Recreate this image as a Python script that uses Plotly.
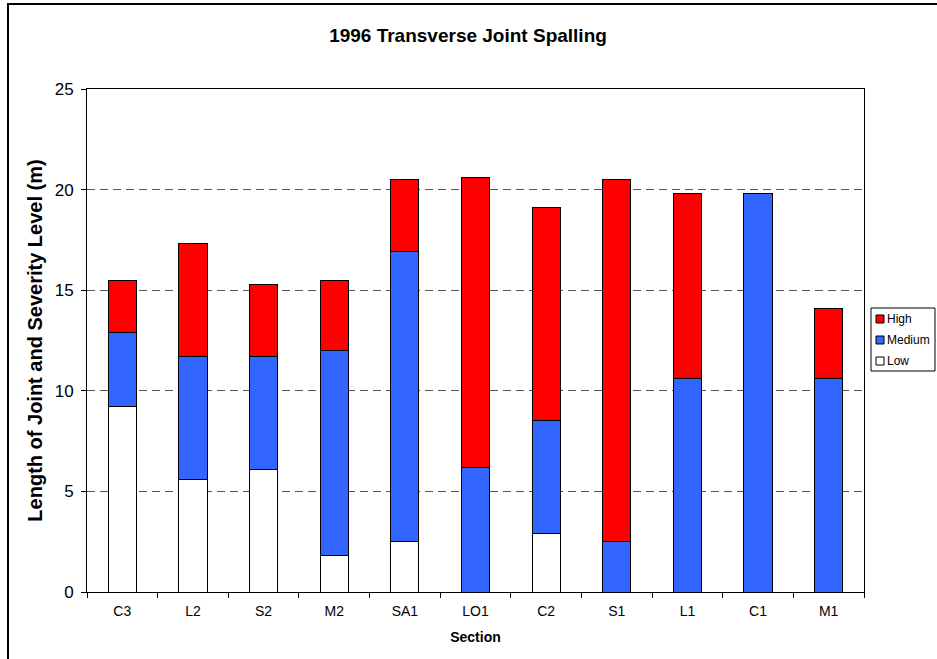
import plotly.graph_objects as go

# Section names along the x axis
sections = ["C3", "L2", "S2", "M2", "SA1", "LO1", "C2", "S1", "L1", "C1", "M1"]

# Length of joint (m) at each spalling severity level
low = [9.2, 5.6, 6.1, 1.8, 2.5, 0.0, 2.9, 0.0, 0.0, 0.0, 0.0]
medium = [3.7, 6.1, 5.6, 10.2, 14.4, 6.2, 5.6, 2.5, 10.6, 19.8, 10.6]
high = [2.6, 5.6, 3.6, 3.5, 3.6, 14.4, 10.6, 18.0, 9.2, 0.0, 3.5]

y_ticks = [0, 5, 10, 15, 20, 25]

FONT = "Arial, Liberation Sans, sans-serif"
W, H = 937, 659
L, R, T, B = 87, 73, 89, 67
pw = W - L - R
ph = H - T - B


def px_x(x):
    """Pixel column -> paper x."""
    return (x - L) / pw


def px_y(y):
    """Pixel row (from top) -> paper y."""
    return 1 - (y - T) / ph


series = [("Low", low, "#FFFFFF"),
          ("Medium", medium, "#3366FF"),
          ("High", high, "#FF0000")]

fig = go.Figure()
for name, vals, color in series:
    fig.add_trace(go.Bar(
        x=sections, y=vals, name=name,
        marker=dict(color=color, line=dict(color="#000000", width=1)),
    ))

# Frame around the whole chart (runs past the right and bottom edges)
fig.add_shape(
    type="rect", xref="paper", yref="paper",
    x0=px_x(8), x1=px_x(W + 5), y0=px_y(H + 5), y1=px_y(4),
    line=dict(color="#000000", width=2), fillcolor="rgba(0,0,0,0)",
    layer="below",
)

# Compact legend box to the right of the plot: High, Medium, Low
fig.add_shape(
    type="rect", xref="paper", yref="paper",
    x0=px_x(871), x1=px_x(935), y0=px_y(371), y1=px_y(308),
    line=dict(color="#000000", width=1), fillcolor="#FFFFFF",
)
for i, (name, _, color) in enumerate(reversed(series)):
    cy = 319 + i * 21
    fig.add_shape(
        type="rect", xref="paper", yref="paper",
        x0=px_x(876), x1=px_x(884), y0=px_y(cy + 4), y1=px_y(cy - 4),
        line=dict(color="#000000", width=1), fillcolor=color,
    )
    fig.add_annotation(
        xref="paper", yref="paper", x=px_x(885), y=px_y(cy),
        xanchor="left", yanchor="middle", showarrow=False,
        text=name, font=dict(family=FONT, size=12, color="#000000"),
    )

fig.update_layout(
    width=W, height=H,
    margin=dict(l=L, r=R, t=T, b=B, pad=0, autoexpand=False),
    paper_bgcolor="#FFFFFF", plot_bgcolor="#FFFFFF",
    barmode="stack", bargap=0.6, showlegend=False,
    font=dict(family=FONT, color="#000000"),
    title=dict(text="<b>1996 Transverse Joint Spalling</b>",
               font=dict(family=FONT, size=19, color="#000000"),
               x=468 / W, xanchor="center",
               y=1 - 35 / H, yanchor="middle"),
    xaxis=dict(
        title=dict(text="<b>Section</b>", font=dict(size=14), standoff=14),
        tickfont=dict(size=14),
        ticks="outside", ticklen=5, tickcolor="#000000",
        tickson="boundaries", ticklabelstandoff=6,
        showline=True, linecolor="#000000", linewidth=1, mirror=True,
        showgrid=False, automargin=False,
    ),
    yaxis=dict(
        title=dict(text="<b>Length of Joint and Severity Level (m)</b>",
                   font=dict(size=20), standoff=6),
        range=[0, 25], tickvals=y_ticks,
        tickfont=dict(size=17),
        ticks="outside", ticklen=5, tickcolor="#000000",
        ticklabelstandoff=4,
        showline=True, linecolor="#000000", linewidth=1, mirror=True,
        showgrid=True, gridcolor="#555555", gridwidth=1, griddash="8px,5px",
        zeroline=False, automargin=False,
    ),
)

fig.write_html("out.html")
